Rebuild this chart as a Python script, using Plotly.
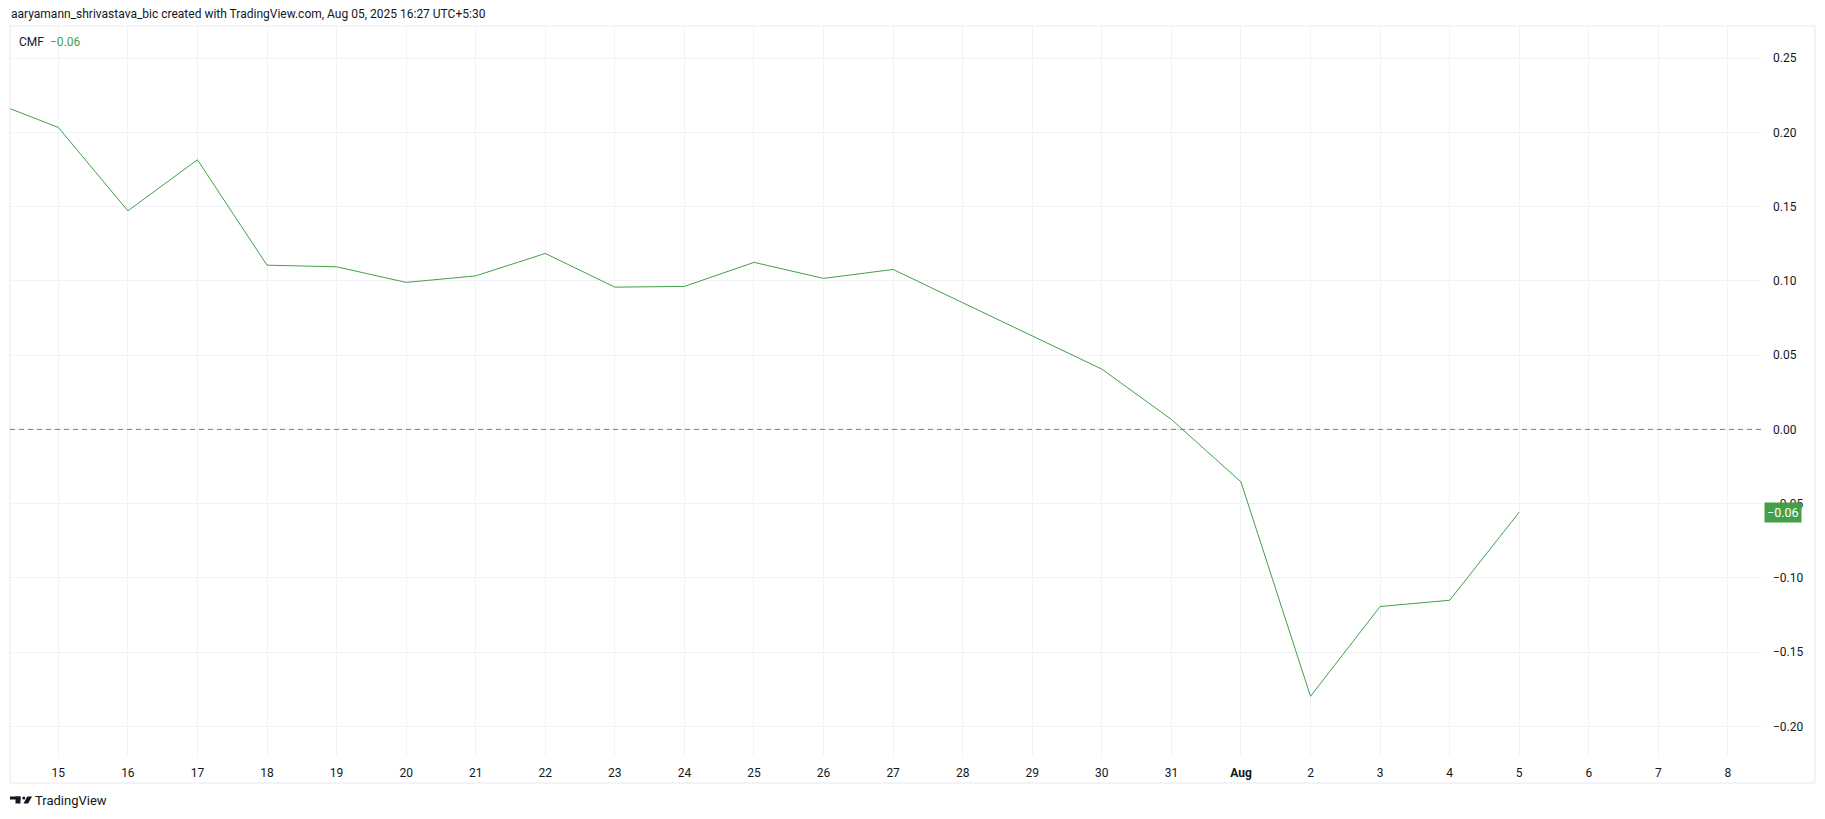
import plotly.graph_objects as go
import pandas as pd

# ---- data ----
dates = pd.date_range("2025-07-14", "2025-08-05", freq="D").strftime("%Y-%m-%d").tolist()
cmf = [0.2216, 0.2034, 0.1472, 0.1816, 0.1106, 0.1095, 0.0990, 0.1034, 0.1185,
       0.0958, 0.0963, 0.1125, 0.1017, 0.1077, 0.0853, 0.0629, 0.0406, 0.0067,
       -0.0354, -0.1798, -0.1193, -0.1151, -0.0558]
tick_dates = pd.date_range("2025-07-15", "2025-08-08", freq="D").strftime("%Y-%m-%d").tolist()
tick_labels = ["15", "16", "17", "18", "19", "20", "21", "22", "23", "24", "25", "26",
               "27", "28", "29", "30", "31", "<b>Aug</b>", "2", "3", "4", "5", "6", "7", "8"]
y_ticks = [-0.20, -0.15, -0.10, -0.05, 0.00, 0.05, 0.10, 0.15, 0.20, 0.25]
title_text = "aaryamann_shrivastava_bic created with TradingView.com, Aug 05, 2025 16:27 UTC+5:30"
indicator_name = "CMF"

# ---- style ----
W, H = 1825, 819
OFF = 8  # page body margin
GREEN = "#43a047"
TXT = "#131722"
GRID = "#f0f2f5"
FONT = "Roboto, sans-serif"

def px(x):
    return (x - OFF) / W

def py(y):
    return 1 - (y - OFF) / H

last_txt = f"{cmf[-1]:.2f}".replace("-", "\u2212")

fig = go.Figure()
fig.add_trace(go.Scatter(x=dates, y=cmf, mode="lines",
                         line=dict(color=GREEN, width=1), hoverinfo="skip",
                         showlegend=False))

fig.update_layout(
    width=W, height=H, autosize=False,
    margin=dict(l=0, r=0, t=0, b=0),
    paper_bgcolor="white", plot_bgcolor="white",
    font=dict(family=FONT, color=TXT, size=12),
    xaxis=dict(
        domain=[px(10), px(1762)],
        type="date",
        range=["2025-07-14 07:20", "2025-08-08 11:45"],
        tickmode="array", tickvals=tick_dates, ticktext=tick_labels,
        showgrid=True, gridcolor=GRID, gridwidth=1,
        zeroline=False, showline=False, ticks="",
        ticklabelstandoff=8, tickfont=dict(size=12, color=TXT),
        automargin=False, fixedrange=True,
    ),
    yaxis=dict(
        domain=[py(756), py(26)],
        side="right",
        range=[-0.2200, 0.2717],
        tickmode="array", tickvals=y_ticks, tickformat=".2f",
        showgrid=True, gridcolor=GRID, gridwidth=1,
        zeroline=False, showline=False, ticks="",
        ticklabelstandoff=10, tickfont=dict(size=12, color=TXT),
        automargin=False, fixedrange=True,
    ),
)

shapes = [
    # pane border
    dict(type="rect", xref="paper", yref="paper", x0=px(10), x1=px(1815),
         y0=py(783), y1=py(26), line=dict(color="#e6e8ee", width=1),
         fillcolor="rgba(0,0,0,0)", layer="above"),
    # zero line
    dict(type="line", xref="x domain", yref="y", x0=0, x1=1, y0=0, y1=0,
         line=dict(color="#787b86", width=1, dash="5px,4px")),
    # TradingView logo
    dict(type="rect", xref="paper", yref="paper", x0=px(10), x1=px(20.5),
         y0=py(799.5), y1=py(796.5), line=dict(width=0), fillcolor=TXT),
    dict(type="rect", xref="paper", yref="paper", x0=px(15.5), x1=px(20.5),
         y0=py(803.5), y1=py(796.5), line=dict(width=0), fillcolor=TXT),
    dict(type="circle", xref="paper", yref="paper", x0=px(22.3), x1=px(25.3),
         y0=py(799.5), y1=py(796.5), line=dict(width=0), fillcolor=TXT),
    dict(type="path", xref="paper", yref="paper",
         path=f"M {px(27.3)},{py(796.5)} L {px(32)},{py(796.5)} L {px(28.2)},{py(803.5)} L {px(23.5)},{py(803.5)} Z",
         line=dict(width=0), fillcolor=TXT),
]
fig.update_layout(shapes=shapes)

annotations = [
    dict(text=title_text, xref="paper", yref="paper", x=px(9), y=py(14),
         xanchor="left", yanchor="middle", showarrow=False,
         font=dict(size=12, color=TXT)),
    dict(text=f"{indicator_name}  <span style='color:{GREEN}'>{last_txt}</span>",
         xref="paper", yref="paper", x=px(17), y=py(42),
         xanchor="left", yanchor="middle", showarrow=False,
         font=dict(size=12, color=TXT)),
    dict(text=last_txt, xref="paper", yref="y", x=px(1764), y=cmf[-1],
         xanchor="left", yanchor="middle", showarrow=False,
         bgcolor=GREEN, borderpad=2, font=dict(size=12.5, color="white")),
    dict(text="TradingView", xref="paper", yref="paper", x=px(33), y=py(800.5),
         xanchor="left", yanchor="middle", showarrow=False,
         font=dict(size=13, color=TXT)),
]
fig.update_layout(annotations=annotations)

fig.write_html("out.html")
